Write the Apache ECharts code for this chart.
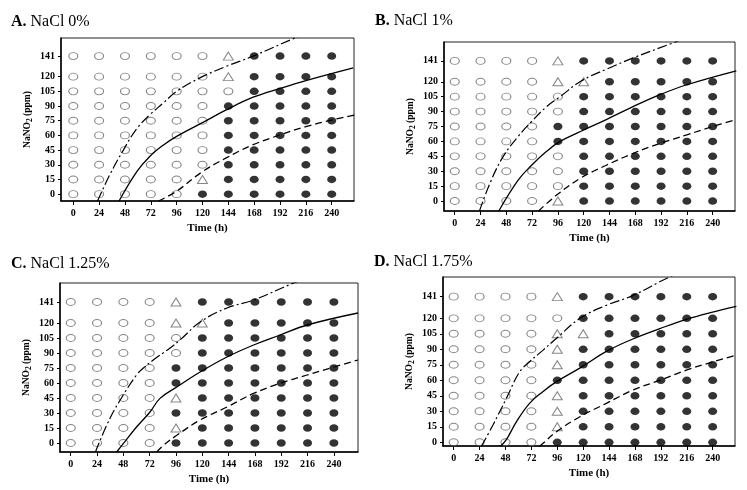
<!DOCTYPE html>
<html><head><meta charset="utf-8">
<script src="https://cdn.jsdelivr.net/npm/echarts@6/dist/echarts.min.js"></script>
<style>html,body{margin:0;padding:0;background:#fff}#c{width:747px;height:490px}</style>
</head><body><div id="c"></div>
<script>
// ---------- data ----------
const times = [0, 24, 48, 72, 96, 120, 144, 168, 192, 216, 240];
const nitrite = [0, 15, 30, 45, 60, 75, 90, 105, 120, 141];
// status per time (11 rows), each char = nitrite level 0..141 ; o=open circle, t=triangle, f=filled
const statusA = ['oooooooooo','oooooooooo','oooooooooo','oooooooooo','oooooooooo',
                 'ftoooooooo','fffffffott','ffffffffff','ffffffffff','ffffffffff','ffffffffff'];
const statusB = ['oooooooooo','oooooooooo','oooooooooo','oooooooooo','toooffoott',
                 'fffffffftf','ffffffffff','ffffffffff','ffffffffff','ffffffffff','ffffffffff'];
const statusC = ['oooooooooo','oooooooooo','oooooooooo','oooooooooo','ftftffoott',
                 'fffffffftf','ffffffffff','ffffffffff','ffffffffff','ffffffffff','ffffffffff'];
const statusD = ['oooooooooo','oooooooooo','oooooooooo','oooooooooo','ftttftttot',
                 'ffffffftff','ffffffffff','ffffffffff','ffffffffff','ffffffffff','ffffffffff'];
const panelLabels = ['A.', 'B.', 'C.', 'D.'];
const panelNames = ['NaCl 0%', 'NaCl 1%', 'NaCl 1.25%', 'NaCl 1.75%'];
// boundary curves [time, nitrite]
const upperA = [[22.5,-7],[34,20],[46.5,45],[59,67],[71,81],[83.5,93],[96,105],[118,119],[142,130.5],[167,141],[207,160],[230,170]];
const middleA = [[42.5,-7],[59,23],[71,38.5],[83.5,50],[96,59],[120,73],[142,86],[167,99],[192,108],[216,116],[260,129]];
const lowerA = [[79,-7],[96,3],[118,21.5],[142,37],[167,50.5],[192,60.5],[216,69],[241,76],[262,81]];
const upperB = [[23,-10],[32.8,18],[45,44.7],[59,65],[71.5,80],[85.5,95],[98,105],[118,121],[142,133],[166,144],[203,159],[230,170]];
const middleB = [[41,-10],[59,21],[71.5,36],[85.5,50],[98,60],[117,70],[141,82],[166,95],[191,107],[216,117],[262,131]];
const lowerB = [[78,-10],[94.8,6],[117,23],[141,36],[166,48],[191,58],[216,66.6],[240,75],[262,82]];
const upperC = [[22.5,-9],[35.7,24.5],[47.9,48],[60,68],[66,74.7],[75.3,83],[90.6,95],[99.7,103],[118,121],[142.5,135],[166.8,143],[203.4,160],[230,170]];
const middleC = [[41.8,-9],[47.9,-0.6],[60,16],[72.3,31],[81.4,44.6],[96.7,56],[118,71],[142.5,86],[166.8,98],[191,108],[215.6,118],[262,130]];
const lowerC = [[78.4,-9],[84.5,-2.3],[96.7,7.7],[118,23],[142.5,36],[166.8,49.6],[191,59.7],[215.6,68],[240,76],[262,83]];
const upperD = [[25.6,-4],[36.4,16.7],[48.8,42.5],[61,68],[70.3,78],[82.6,89],[95,100.4],[117,120],[141.5,132.6],[166,142],[200,160],[225,170]];
const middleD = [[43,-4],[48.5,2],[58.2,20],[70.3,37.7],[82.6,49],[95,58.5],[118,72.5],[141.5,88],[166,100],[191,110],[215.6,119],[240,126],[262,131.5]];
const lowerD = [[79.4,-4],[82.8,-1],[95,10],[117,24.7],[141.5,37.7],[166,50.5],[191,60],[215.6,69.8],[240,77.8],[262,84.3]];

// ---------- layout ----------
const statuses = [statusA, statusB, statusC, statusD];
const curves = [[upperA, middleA, lowerA],[upperB, middleB, lowerB],[upperC, middleC, lowerC],[upperD, middleD, lowerD]];
const grids = [
  {left: 61, top: 38, width: 293, height: 163},
  {left: 444, top: 42, width: 291, height: 169},
  {left: 60, top: 283, width: 298, height: 169},
  {left: 443, top: 277, width: 292, height: 169}
];
const xr = [[-11.4, 260.7], [-10, 260.8], [-9.8, 262], [-9.9, 260.7]];
const yr = [[-7, 159.5], [-10, 160], [-9, 160], [-3.6, 160]];
const titlePos = [[11, 14], [375, 13], [11, 256], [374, 254]];
const serif = "'Liberation Serif', 'DejaVu Serif', serif";

const option = {
  animation: false,
  backgroundColor: '#fff',
  title: [], grid: [], xAxis: [], yAxis: [], series: []
};

for (let p = 0; p < 4; p++) {
  option.title.push({
    text: '{b|' + panelLabels[p] + '}{n| ' + panelNames[p] + '}',
    left: titlePos[p][0], top: titlePos[p][1], padding: 0,
    textStyle: {
      fontFamily: serif, fontSize: 16, fontWeight: 'normal', color: '#000',
      rich: {
        b: {fontFamily: serif, fontSize: 16, fontWeight: 'bold', color: '#000'},
        n: {fontFamily: serif, fontSize: 16, fontWeight: 'normal', color: '#000'}
      }
    }
  });
  option.grid.push(Object.assign({show: true, borderColor: '#222', borderWidth: 1, containLabel: false}, grids[p]));
  option.xAxis.push({
    type: 'value', gridIndex: p, min: xr[p][0], max: xr[p][1],
    name: 'Time (h)', nameLocation: 'middle', nameGap: 22,
    nameTextStyle: {fontFamily: serif, fontWeight: 'bold', fontSize: 11, color: '#000'},
    axisLine: {show: true, onZero: false, lineStyle: {color: '#000', width: 1.5}},
    axisTick: {show: true, inside: false, length: 4, customValues: times, lineStyle: {color: '#000'}},
    axisLabel: {customValues: times, fontFamily: serif, fontWeight: 'bold', fontSize: 10, color: '#000', margin: 7},
    splitLine: {show: false}
  });
  option.yAxis.push({
    type: 'value', gridIndex: p, min: yr[p][0], max: yr[p][1],
    name: '{a|NaNO}{s|2}{a| (ppm)}', nameLocation: 'middle', nameGap: 27, nameRotate: 90,
    nameTextStyle: {
      fontFamily: serif, fontWeight: 'bold', fontSize: 9.5, color: '#000',
      rich: {
        a: {fontFamily: serif, fontWeight: 'bold', fontSize: 9.5, color: '#000', lineHeight: 13},
        s: {fontFamily: serif, fontWeight: 'bold', fontSize: 7.5, color: '#000', verticalAlign: 'bottom', lineHeight: 7}
      }
    },
    axisLine: {show: true, onZero: false, lineStyle: {color: '#000', width: 1.5}},
    axisTick: {show: true, inside: false, length: 3, customValues: nitrite, lineStyle: {color: '#000'}},
    axisLabel: {customValues: nitrite, fontFamily: serif, fontWeight: 'bold', fontSize: 10, color: '#000', margin: 6},
    splitLine: {show: false}
  });
  const open = [], tri = [], fill = [];
  statuses[p].forEach((row, i) => {
    for (let j = 0; j < nitrite.length; j++) {
      const c = row[j];
      const pt = [times[i], nitrite[j]];
      if (c === 'o') open.push(pt); else if (c === 't') tri.push(pt); else if (c === 'f') fill.push(pt);
    }
  });
  const [up, mid, low] = curves[p];
  option.series.push(
    {type: 'line', xAxisIndex: p, yAxisIndex: p, data: up, smooth: 0.4, symbol: 'none', clip: true,
     lineStyle: {color: '#000', width: 1.2, type: [10, 3, 2, 3]}, z: 3},
    {type: 'line', xAxisIndex: p, yAxisIndex: p, data: mid, smooth: 0.4, symbol: 'none', clip: true,
     lineStyle: {color: '#000', width: 1.3, type: 'solid'}, z: 3},
    {type: 'line', xAxisIndex: p, yAxisIndex: p, data: low, smooth: 0.4, symbol: 'none', clip: true,
     lineStyle: {color: '#000', width: 1.3, type: [7, 4]}, z: 3},
    {type: 'scatter', xAxisIndex: p, yAxisIndex: p, data: open, symbol: 'circle', symbolSize: [9, 7],
     itemStyle: {color: 'rgba(255,255,255,0)', borderColor: '#666', borderWidth: 1}, z: 2},
    {type: 'scatter', xAxisIndex: p, yAxisIndex: p, data: tri, symbol: 'triangle', symbolSize: [10, 8],
     itemStyle: {color: 'rgba(255,255,255,0)', borderColor: '#666', borderWidth: 1}, z: 2},
    {type: 'scatter', xAxisIndex: p, yAxisIndex: p, data: fill, symbol: 'circle', symbolSize: [9, 7.5],
     itemStyle: {color: '#000', borderColor: '#000', borderWidth: 0}, z: 2}
  );
}

const chart = echarts.init(document.getElementById('c'), null, {renderer: 'canvas'});
chart.setOption(option);
</script>
</body></html>
